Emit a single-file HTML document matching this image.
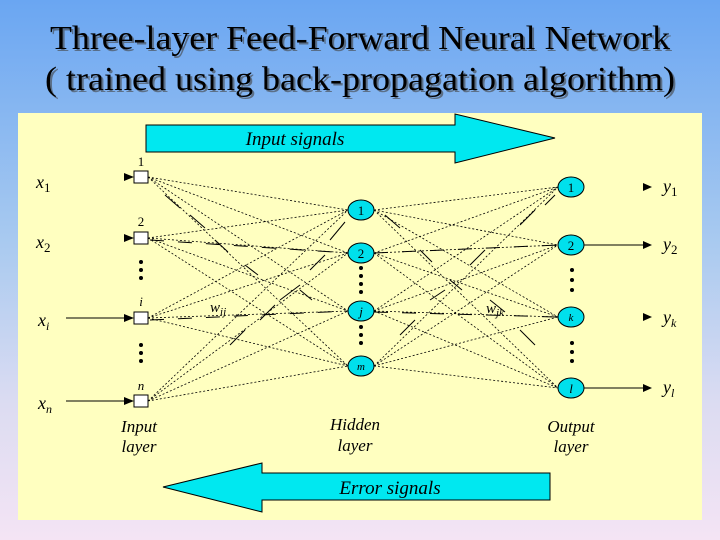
<!DOCTYPE html>
<html><head><meta charset="utf-8"><style>
html,body{margin:0;padding:0;width:720px;height:540px;overflow:hidden}
body{background:linear-gradient(#6aa6f2 0%,#a9caf0 45%,#dcdcf2 75%,#f4e4f4 100%);}
svg{display:block}
</style></head><body>
<svg width="720" height="540" xmlns="http://www.w3.org/2000/svg" font-family="Liberation Serif, serif">
<text x="362" y="51" text-anchor="middle" font-size="34" fill="#444" opacity="0.6" textLength="620" lengthAdjust="spacingAndGlyphs">Three-layer Feed-Forward Neural Network</text>
<text x="360" y="49" text-anchor="middle" font-size="34" fill="#000" textLength="620" lengthAdjust="spacingAndGlyphs">Three-layer Feed-Forward Neural Network</text>
<text x="362" y="92" text-anchor="middle" font-size="34" fill="#444" opacity="0.6" textLength="630" lengthAdjust="spacingAndGlyphs">( trained using back-propagation algorithm)</text>
<text x="360" y="90" text-anchor="middle" font-size="34" fill="#000" textLength="630" lengthAdjust="spacingAndGlyphs">( trained using back-propagation algorithm)</text>
<rect x="18" y="113" width="684" height="407" fill="#ffffc0"/>
<polygon points="146,125 455,125 455,114 555,138 455,163 455,152 146,152" fill="#00e8f0" stroke="#000" stroke-width="1"/>
<text x="295" y="145" text-anchor="middle" font-size="19" font-style="italic">Input signals</text>
<polygon points="550,473 262,473 262,463 163,487 262,512 262,500 550,500" fill="#00e8f0" stroke="#000" stroke-width="1"/>
<text x="390" y="494" text-anchor="middle" font-size="19" font-style="italic">Error signals</text>
<g stroke="#000" stroke-width="0.8" stroke-dasharray="2,2" fill="none">
<path d="M148,177 L348,210 M148,177 L348,253 M148,177 L348,311 M148,177 L348,366
M148,238 L348,210 M148,238 L348,253 M148,238 L348,311 M148,238 L348,366
M148,318 L348,210 M148,318 L348,253 M148,318 L348,311 M148,318 L348,366
M148,401 L348,210 M148,401 L348,253 M148,401 L348,311 M148,401 L348,366"/>
<path d="M374,210 L558,187 M374,210 L558,245 M374,210 L558,317 M374,210 L558,388
M374,253 L558,187 M374,253 L558,245 M374,253 L558,317 M374,253 L558,388
M374,311 L558,187 M374,311 L558,245 M374,311 L558,317 M374,311 L558,388
M374,366 L558,187 M374,366 L558,245 M374,366 L558,317 M374,366 L558,388"/>
</g>
<g stroke="#000" stroke-width="1" stroke-dasharray="14,14" fill="none">
<path d="M150,240 L348,253 M150,320 L348,311 M374,253 L558,245 M374,312 L558,317"/>
</g>
<g stroke="#000" stroke-width="1" fill="none">
<path d="M165,195 L180,208 M190,215 L205,228 M215,240 L228,252 M245,265 L258,275 M300,290 L312,300 M230,345 L245,330 M260,320 L275,305 M280,300 L300,285 M310,270 L325,255 M330,240 L345,222"/>
<path d="M385,215 L400,228 M420,250 L432,262 M450,280 L462,290 M490,300 L505,312 M520,330 L535,345 M400,335 L415,320 M430,300 L445,290 M470,265 L485,250 M520,225 L535,210 M545,205 L555,195"/>
<path d="M66,318 L128,318 M66,401 L128,401 M584,245 L648,245 M584,388 L648,388"/>
</g>
<g fill="#000">
<polygon points="124,173 134,177 124,181"/><polygon points="124,234 134,238 124,242"/>
<polygon points="124,314 134,318 124,322"/><polygon points="124,397 134,401 124,405"/>
<polygon points="643,183 652,187 643,191"/><polygon points="643,241 652,245 643,249"/>
<polygon points="643,313 652,317 643,321"/><polygon points="643,384 652,388 643,392"/>
<circle cx="141" cy="262" r="2"/><circle cx="141" cy="270" r="2"/><circle cx="141" cy="278" r="2"/>
<circle cx="141" cy="345" r="2"/><circle cx="141" cy="353" r="2"/><circle cx="141" cy="361" r="2"/>
<circle cx="361" cy="268" r="2"/><circle cx="361" cy="276" r="2"/><circle cx="361" cy="284" r="2"/><circle cx="361" cy="292" r="2"/>
<circle cx="361" cy="327" r="2"/><circle cx="361" cy="335" r="2"/><circle cx="361" cy="343" r="2"/>
<circle cx="572" cy="270" r="2"/><circle cx="572" cy="280" r="2"/><circle cx="572" cy="290" r="2"/>
<circle cx="572" cy="343" r="2"/><circle cx="572" cy="352" r="2"/><circle cx="572" cy="361" r="2"/>
</g>
<g fill="#fff" stroke="#000">
<rect x="134" y="171" width="14" height="12"/><rect x="134" y="232" width="14" height="12"/>
<rect x="134" y="312" width="14" height="12"/><rect x="134" y="395" width="14" height="12"/>
</g>
<g fill="#00e0ec" stroke="#000">
<ellipse cx="361" cy="210" rx="13" ry="10"/><ellipse cx="361" cy="253" rx="13" ry="10"/>
<ellipse cx="361" cy="311" rx="13" ry="10"/><ellipse cx="361" cy="366" rx="13" ry="10"/>
<ellipse cx="571" cy="187" rx="13" ry="10"/><ellipse cx="571" cy="245" rx="13" ry="10"/>
<ellipse cx="571" cy="317" rx="13" ry="10"/><ellipse cx="571" cy="388" rx="13" ry="10"/>
</g>
<g font-size="13" text-anchor="middle">
<text x="361" y="215">1</text><text x="361" y="258">2</text><text x="361" y="316" font-style="italic">j</text><text x="361" y="370" font-style="italic" font-size="11">m</text>
<text x="571" y="192">1</text><text x="571" y="250">2</text><text x="571" y="321" font-style="italic" font-size="11">k</text><text x="571" y="393" font-style="italic">l</text>
<text x="141" y="166">1</text><text x="141" y="226">2</text><text x="141" y="306" font-style="italic">i</text><text x="141" y="390" font-style="italic">n</text>
</g>
<g font-size="18" font-style="italic">
<text x="36" y="188">x<tspan font-size="13" dy="4" font-style="normal">1</tspan></text>
<text x="36" y="248">x<tspan font-size="13" dy="4" font-style="normal">2</tspan></text>
<text x="38" y="326">x<tspan font-size="12" dy="4">i</tspan></text>
<text x="38" y="409">x<tspan font-size="12" dy="4">n</tspan></text>
<text x="663" y="192">y<tspan font-size="13" dy="4" font-style="normal">1</tspan></text>
<text x="663" y="250">y<tspan font-size="13" dy="4" font-style="normal">2</tspan></text>
<text x="663" y="323">y<tspan font-size="12" dy="4">k</tspan></text>
<text x="663" y="393">y<tspan font-size="12" dy="4">l</tspan></text>
<text x="210" y="312" font-size="15">w<tspan font-size="11" dy="3">ij</tspan></text>
<text x="486" y="313" font-size="15">w<tspan font-size="11" dy="3">jk</tspan></text>
</g>
<g font-size="17" font-style="italic" text-anchor="middle">
<text x="139" y="432">Input</text><text x="139" y="452">layer</text>
<text x="355" y="430">Hidden</text><text x="355" y="451">layer</text>
<text x="571" y="432">Output</text><text x="571" y="452">layer</text>
</g>
</svg>
</body></html>
